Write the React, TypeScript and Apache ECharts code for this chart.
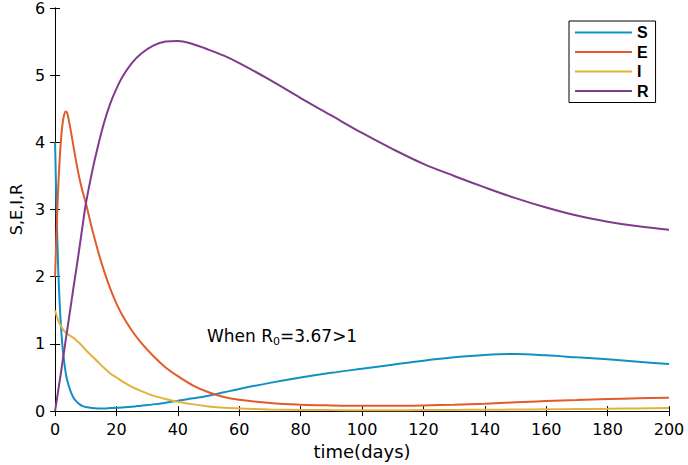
import React, { useEffect, useRef } from "react";
import * as echarts from "echarts";

const days = [0, 0.5, 1, 1.5, 2, 2.5, 3, 3.5, 4, 5, 6, 7, 8, 9, 10, 12, 14, 16, 18, 20, 22, 25, 28, 32, 36, 40, 45, 50, 55, 60, 70, 80, 90, 100, 110, 120, 130, 140, 150, 160, 170, 180, 190, 200];
const sValues = [4.0, 2.95, 2.15, 1.6, 1.2, 0.92, 0.72, 0.56, 0.45, 0.3, 0.2, 0.14, 0.1, 0.075, 0.06, 0.045, 0.04, 0.04, 0.045, 0.05, 0.055, 0.065, 0.08, 0.1, 0.125, 0.155, 0.19, 0.23, 0.28, 0.33, 0.42, 0.5, 0.57, 0.63, 0.69, 0.75, 0.8, 0.835, 0.85, 0.83, 0.8, 0.77, 0.735, 0.7];
const eValues = [2.0, 2.7, 3.3, 3.75, 4.08, 4.3, 4.42, 4.46, 4.43, 4.2, 3.94, 3.68, 3.45, 3.26, 3.1, 2.72, 2.38, 2.08, 1.82, 1.6, 1.42, 1.2, 1.02, 0.82, 0.65, 0.52, 0.38, 0.28, 0.21, 0.17, 0.12, 0.095, 0.085, 0.08, 0.08, 0.085, 0.095, 0.11, 0.13, 0.15, 0.165, 0.18, 0.19, 0.2];
const iValues = [1.5, 1.42, 1.35, 1.3, 1.26, 1.22, 1.19, 1.17, 1.15, 1.12, 1.09, 1.05, 1.01, 0.96, 0.91, 0.82, 0.73, 0.64, 0.56, 0.5, 0.44, 0.36, 0.3, 0.23, 0.18, 0.14, 0.1, 0.07, 0.05, 0.04, 0.025, 0.018, 0.015, 0.014, 0.014, 0.015, 0.017, 0.02, 0.023, 0.027, 0.031, 0.035, 0.04, 0.045];
const rValues = [0, 0.15, 0.3, 0.45, 0.6, 0.76, 0.91, 1.07, 1.22, 1.53, 1.84, 2.14, 2.45, 2.77, 3.08, 3.55, 3.95, 4.3, 4.58, 4.8, 4.98, 5.18, 5.32, 5.44, 5.5, 5.51, 5.46, 5.38, 5.29, 5.18, 4.93, 4.66, 4.4, 4.14, 3.9, 3.68, 3.5, 3.33, 3.17, 3.03, 2.91, 2.82, 2.75, 2.7];

const seriesNames = ["S", "E", "I", "R"];
const seriesValues = [sValues, eValues, iValues, rValues];
const seriesColors = ["#1190c4", "#e35b2b", "#e2b23c", "#7f3b8c"];

const xAxisName = "time(days)";
const yAxisName = "S,E,I,R";

const FONT = "DejaVu Sans";

export default function App() {
  const ref = useRef<HTMLDivElement>(null);

  useEffect(() => {
    if (!ref.current) return;
    const chart = echarts.init(ref.current, undefined, { renderer: "svg" });

    const tickCommon = {
      axisLine: { show: true, lineStyle: { color: "#000", width: 1 } },
      axisTick: { show: true, inside: true, length: 5, lineStyle: { color: "#000", width: 1 } },
      splitLine: { show: false },
    };

    chart.setOption({
      animation: false,
      backgroundColor: "#fff",
      grid: { left: 50, right: 19, top: 8, bottom: 53, containLabel: false },
      legend: {
        orient: "vertical",
        left: 569,
        top: 21,
        data: seriesNames,
        icon: "rect",
        itemWidth: 57,
        itemHeight: 2,
        itemGap: 3.5,
        padding: [3.5, 7, 3.5, 6],
        backgroundColor: "#fff",
        borderColor: "#000",
        borderWidth: 1,
        borderRadius: 0,
        textStyle: { fontFamily: "Liberation Sans", fontWeight: "bold", fontSize: 16, color: "#000", lineHeight: 16 },
      },
      xAxis: [
        {
          type: "value",
          min: 0,
          max: 200,
          interval: 20,
          position: "bottom",
          name: xAxisName,
          nameLocation: "middle",
          nameGap: 30,
          nameTextStyle: { fontFamily: FONT, fontSize: 18, color: "#000" },
          axisLabel: { fontFamily: FONT, fontSize: 16, color: "#000", margin: 10 },
          ...tickCommon,
        },
        {
          type: "value",
          min: 0,
          max: 200,
          interval: 20,
          position: "top",
          axisLabel: { show: false },
          ...tickCommon,
        },
      ],
      yAxis: [
        {
          type: "value",
          min: 0,
          max: 6,
          interval: 1,
          position: "left",
          name: yAxisName,
          nameLocation: "middle",
          nameGap: 27,
          nameTextStyle: { fontFamily: FONT, fontSize: 16, color: "#000" },
          axisLabel: { fontFamily: FONT, fontSize: 16, color: "#000", margin: 10 },
          ...tickCommon,
        },
        {
          type: "value",
          min: 0,
          max: 6,
          interval: 1,
          position: "right",
          axisLabel: { show: false },
          ...tickCommon,
        },
      ],
      series: seriesNames.map((name, k) => ({
        name,
        type: "line",
        xAxisIndex: 0,
        yAxisIndex: 0,
        data: days.map((d, i) => [d, seriesValues[k][i]]),
        showSymbol: false,
        smooth: 0.35,
        color: seriesColors[k],
        lineStyle: { width: 2, color: seriesColors[k] },
        emphasis: { disabled: true },
      })),
      graphic: [
        {
          type: "text",
          left: 207,
          top: 327,
          style: {
            text: "{a|When R}{s|0}{a|=3.67>1}",
            rich: {
              a: { fontFamily: FONT, fontSize: 17, color: "#000" },
              s: { fontFamily: FONT, fontSize: 11, color: "#000", padding: [12, 0, 0, 0] },
            },
          },
        },
      ],
    });

    return () => chart.dispose();
  }, []);

  return (
    <div
      ref={ref}
      style={{ position: "fixed", left: 0, top: 0, width: 688, height: 465, background: "#fff" }}
    />
  );
}
